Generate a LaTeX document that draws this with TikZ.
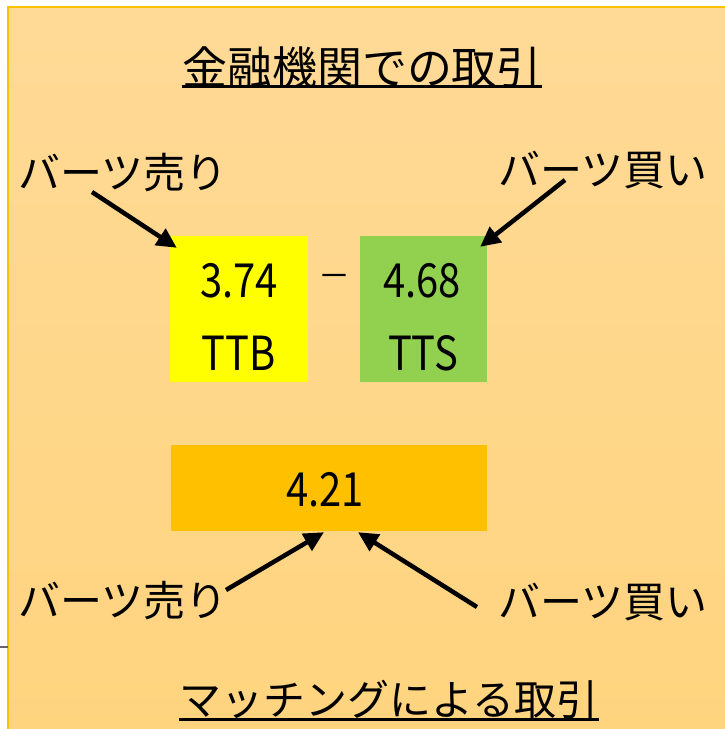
\documentclass[tikz,border=0pt]{standalone}
\usepackage{fontspec}
\setmainfont{Noto Sans CJK JP}
\newfontfamily\numfont[FakeStretch=0.85]{Noto Sans CJK JP}
\usetikzlibrary{arrows.meta}
\definecolor{bgtop}{HTML}{FFDA97}
\definecolor{bgbot}{HTML}{FFD47E}
\definecolor{bgline}{HTML}{FFC000}
\definecolor{ttbcol}{HTML}{FFFF00}
\definecolor{ttscol}{HTML}{92D050}
\definecolor{midcol}{HTML}{FFC000}
\tikzset{
  title/.style={inner sep=0pt, font=\fontsize{45}{50}\selectfont},
  lbl/.style={inner sep=0pt, font=\fontsize{42}{46}\selectfont},
  num/.style={inner sep=0pt, font=\numfont\fontsize{47}{52}\selectfont},
  box/.style={draw=none, inner sep=0pt},
  arr/.style={line width=4.5pt, -{Triangle[length=20pt,width=19pt]}},
  uline/.style={line width=2.5pt}
}
\begin{document}
\begin{tikzpicture}[x=1pt,y=-1pt]
\useasboundingbox (0,0) rectangle (725,729);
\begin{scope}
\clip (0,0) rectangle (725,729);
\shade[top color=bgtop, bottom color=bgbot] (8,7) rectangle (760,760);
\draw[bgline, line width=1.5pt] (8,760) -- (8,7) -- (760,7);
\end{scope}
\draw[gray!80!black, line width=2pt] (0,647) -- (8,647);

% titles
\node[title] (t1) at (362,67) {金融機関での取引};
\draw[uline] ([yshift=1.5pt]t1.south west) -- ([yshift=1.5pt]t1.south east);
\node[title, font=\fontsize{42}{47}\selectfont] (t2) at (389,700) {マッチングによる取引};
\draw[uline] ([yshift=0pt]t2.south west) -- ([yshift=0pt]t2.south east);

% boxes
\node[box, fill=ttbcol, minimum width=138pt, minimum height=146pt] (ttb) at (239,309) {};
\node[box, fill=ttscol, minimum width=127pt, minimum height=146pt] (tts) at (423.5,309) {};
\node[box, fill=midcol, minimum width=316pt, minimum height=86pt] (mid) at (329,488) {};

\node[num] (n1) at (239,281) {3.74};
\node[num] (n2) at (239,353) {TTB};
\node[num] (n3) at (422,281) {4.68};
\node[num] (n4) at (423,353) {TTS};
\node[inner sep=0pt, font=\fontsize{32}{34}\selectfont] (dash) at (334,281) {－};
\node[num] (n5) at (325,490) {4.21};

% labels
\node[lbl] (l1) at (123,173) {バーツ売り};
\node[lbl] (l2) at (603,170) {バーツ買い};
\node[lbl] (l3) at (123,601) {バーツ売り};
\node[lbl] (l4) at (603,602) {バーツ買い};

\coordinate (a1) at (92,192);
\coordinate (a2) at (565,180);
\coordinate (a3) at (226,590);
\coordinate (a4) at (477,607);

\draw[arr] (a1) -- ([shift={(7pt,-12pt)}]ttb.north west);
\draw[arr] (a2) -- ([shift={(-7pt,-11pt)}]tts.north east);
\draw[arr] (a3) -- ([shift={(-5pt,-1pt)}]mid.south);
\draw[arr] (a4) -- ([shift={(29pt,-1pt)}]mid.south);
\end{tikzpicture}
\end{document}
